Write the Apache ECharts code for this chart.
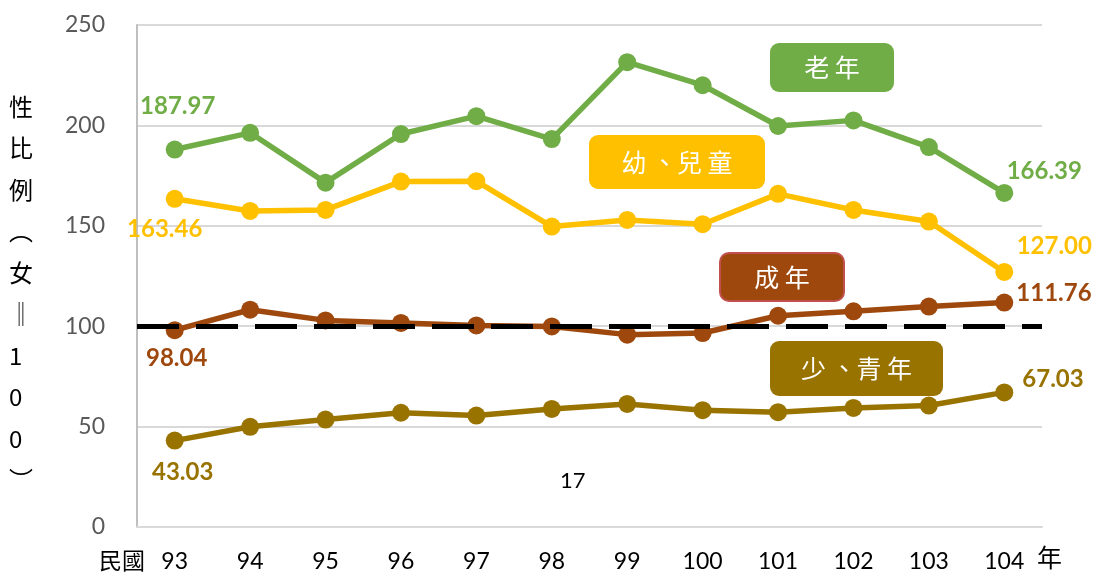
<!DOCTYPE html>
<html>
<head>
<meta charset="utf-8">
<script src="https://cdn.jsdelivr.net/npm/echarts@6/dist/echarts.min.js"></script>
<style>
  html, body { margin: 0; padding: 0; background: #fff; }
  #chart { width: 1094px; height: 573px; }
</style>
</head>
<body>
<div id="chart"></div>
<script>
// 年度 (民國)
const years = ['93', '94', '95', '96', '97', '98', '99', '100', '101', '102', '103', '104']
// 各年齡層性比例
const elderly = [187.97, 196.3, 171.5, 195.7, 204.6, 193.2, 231.5, 220.0, 199.7, 202.5, 189.2, 166.39]
const children = [163.46, 157.4, 157.9, 172.0, 172.2, 149.6, 152.9, 150.8, 165.9, 157.9, 152.1, 127.00]
const adults = [98.04, 108.2, 102.9, 101.6, 100.4, 99.9, 95.8, 96.6, 105.2, 107.4, 109.8, 111.76]
const youth = [43.03, 49.9, 53.5, 56.9, 55.5, 58.8, 61.3, 58.2, 57.2, 59.3, 60.5, 67.03]
const yTicks = [0, 50, 100, 150, 200, 250]
const baseLine = 100

const chart = echarts.init(document.getElementById('chart'))

const labelFont = {
  fontFamily: 'Lato',
  fontWeight: 'bold',
  fontSize: 24
}

// 只在第一個和最後一個點顯示數值
function buildData (values, color, firstLabel, lastLabel) {
  return values.map((v, i) => {
    if (i === 0) {
      return { value: v, label: Object.assign({ show: true, color: color, formatter: v.toFixed(2) }, labelFont, firstLabel) }
    }
    if (i === values.length - 1) {
      return { value: v, label: Object.assign({ show: true, color: color, formatter: v.toFixed(2) }, labelFont, lastLabel) }
    }
    return v
  })
}

function lineSeries (name, values, color, firstLabel, lastLabel) {
  return {
    name: name,
    type: 'line',
    data: buildData(values, color, firstLabel, lastLabel),
    symbol: 'circle',
    symbolSize: 18,
    lineStyle: { color: color, width: 5.5 },
    itemStyle: { color: color },
    label: { show: false },
    animation: false
  }
}

// 圖例方塊
function tag (x, y, w, h, fill, text, stroke) {
  return {
    type: 'group',
    left: x,
    top: y,
    children: [
      {
        type: 'rect',
        shape: { x: 0, y: 0, width: w, height: h, r: 9 },
        style: { fill: fill, stroke: stroke || fill, lineWidth: stroke ? 2 : 0 }
      },
      {
        type: 'text',
        x: w / 2,
        y: h / 2,
        style: {
          text: text,
          fill: '#fff',
          fontSize: 25,
          fontFamily: 'Noto Sans CJK TC',
          align: 'center',
          verticalAlign: 'middle'
        }
      }
    ]
  }
}

const option = {
  backgroundColor: '#fff',
  animation: false,
  grid: {
    left: 137,
    right: 52,
    top: 25,
    bottom: 45
  },
  xAxis: {
    type: 'category',
    data: years,
    boundaryGap: true,
    axisLine: { show: true, lineStyle: { color: '#d9d9d9', width: 2 } },
    axisTick: { show: false },
    axisLabel: {
      color: '#000',
      fontSize: 23,
      fontFamily: 'Lato',
      margin: 23
    }
  },
  yAxis: {
    type: 'value',
    min: yTicks[0],
    max: yTicks[yTicks.length - 1],
    interval: 50,
    axisLine: { show: true, lineStyle: { color: '#bfbfbf', width: 2 } },
    axisTick: { show: false },
    splitLine: { lineStyle: { color: '#d9d9d9', width: 2 } },
    axisLabel: {
      color: '#595959',
      fontSize: 23,
      fontFamily: 'Lato',
      margin: 32
    }
  },
  series: [
    lineSeries('老年', elderly, '#70ad47',
      { position: 'top', distance: 22, offset: [3, 0] },
      { position: 'top', offset: [40, 4] }),
    lineSeries('幼、兒童', children, '#ffc000',
      { position: 'bottom', distance: 9, offset: [-10, 0] },
      { position: 'top', offset: [50, 0] }),
    Object.assign(lineSeries('成年', adults, '#9e480e',
      { position: 'bottom', distance: 7, offset: [2, 0] },
      { position: 'right', distance: 3, offset: [0, -9] }), {
      markLine: {
        silent: true,
        symbol: 'none',
        label: { show: false },
        lineStyle: { color: '#000', width: 5, type: [42, 17] },
        data: [{ yAxis: baseLine }],
        z: 10
      }
    }),
    lineSeries('少、青年', youth, '#997300',
      { position: 'bottom', distance: 11, offset: [8, 0] },
      { position: 'right', distance: 9, offset: [0, -13] })
  ],
  graphic: [
    tag(770, 43, 124, 49, '#70ad47', '老 年'),
    tag(589, 135, 176, 54, '#ffc000', '幼 、兒 童'),
    tag(719, 252, 124, 48, '#9e480e', '成 年', '#c0504d'),
    tag(770, 341, 173, 55, '#997300', '少 、青 年'),
    {
      type: 'text',
      left: 9,
      top: 86,
      style: {
        text: '性\n比\n例\n︵\n女\n‖\n1\n0\n0\n︶',
        fill: '#000',
        fontSize: 24,
        lineHeight: 41.5,
        fontFamily: 'Noto Sans CJK TC',
        align: 'center',
        width: 30
      }
    },
    {
      type: 'text',
      left: 99,
      top: 549,
      style: { text: '民國', fill: '#000', fontSize: 23, fontFamily: 'Noto Sans CJK TC' }
    },
    {
      type: 'text',
      left: 1037,
      top: 545,
      style: { text: '年', fill: '#000', fontSize: 25, fontFamily: 'Noto Sans CJK TC' }
    },
    {
      type: 'text',
      left: 560,
      top: 470,
      style: { text: '17', fill: '#000', fontSize: 22, fontFamily: 'Lato' }
    }
  ]
}

chart.setOption(option)
</script>
</body>
</html>
